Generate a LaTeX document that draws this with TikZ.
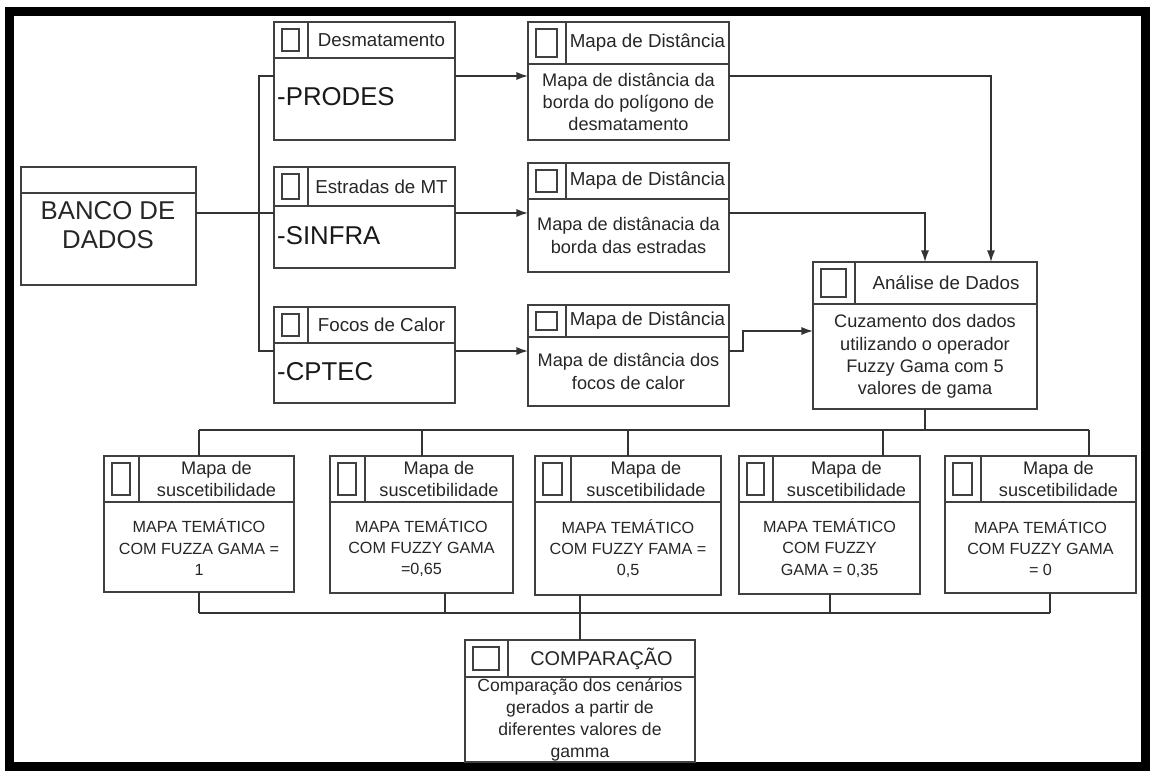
\documentclass[tikz,border=0pt]{standalone}
\usepackage{fontspec}
\setmainfont{Liberation Sans}
\usetikzlibrary{fit,arrows.meta}

\tikzset{
  caixa/.style={draw=black!75, line width=1.4pt, inner sep=0pt, outer sep=0pt},
  linha/.style={draw=black!75, line width=1.4pt},
  titulo/.style={text=black!85, font=\fontsize{16}{19}\selectfont, align=center, inner sep=0pt},
  corpo/.style={text=black!85, font=\fontsize{15.5}{19}\selectfont, align=center, inner sep=0pt},
  fonte/.style={text=black!90, font=\fontsize{22}{26}\selectfont, inner sep=0pt, anchor=west},
  liga/.style={draw=black!80, line width=1.3pt},
}

% name, left, top, right, bottom, header line, divider, title, body
\newcommand{\caixa}[9]{%
  \node[caixa, fit={(#2,#3) (#4,#5)}] (#1) {};
  \draw[linha] (#2,#6) -- (#4,#6);
  \draw[linha] (#7,#3) -- (#7,#6);
  \draw[linha] ({#2+8},{#3+7}) rectangle ({#7-9},{#6-7});
  \node[titulo] (#1-t) at ({(#7+#4)/2},{(#3+#6)/2}) {#8};
  \node[corpo] (#1-c) at ({(#2+#4)/2},{(#6+#5)/2}) {#9};
}

\begin{document}
\begin{tikzpicture}[x=0.03cm, y=-0.03cm, >={Latex[length=10pt,width=7pt]}]
    \useasboundingbox (0,0) rectangle (1151,771);
    \draw[line width=7.6pt] (9.5,11.5) rectangle (1145.5,766.5);

    % banco de dados
    \node[caixa, fit={(21,167) (196,285)}] (banco) {};
    \draw[linha] (21,193) -- (196,193);
    \node[corpo, font=\fontsize{22}{25}\selectfont] (banco-c) at (108,225) {BANCO DE\\DADOS};

    % fontes
    \caixa{desm}{274}{22}{455}{140}{58}{308}{Desmatamento}{}
    \caixa{estr}{274}{167}{455}{268}{206}{308}{Estradas de MT}{}
    \caixa{focos}{274}{307}{455}{403}{343}{308}{Focos de Calor}{}
    \node[fonte] (desm-f) at (277,97) {-PRODES};
    \node[fonte] (estr-f) at (277,236) {-SINFRA};
    \node[fonte] (focos-f) at (277,372) {-CPTEC};

    % mapas de distancia
    \caixa{dist1}{528}{22}{729}{140}{64}{566}{Mapa de Distância}{Mapa de distância da\\borda do polígono de\\desmatamento}
    \caixa{dist2}{528}{163}{729}{272}{199}{566}{Mapa de Distância}{Mapa de distânacia da\\borda das estradas}
    \caixa{dist3}{528}{305}{729}{406}{337}{566}{Mapa de Distância}{Mapa de distância dos\\focos de calor}

    \caixa{analise}{813}{262}{1037}{409}{304}{855}{Análise de Dados}{Cuzamento dos dados\\utilizando o operador\\Fuzzy Gama com 5\\valores de gama}

    % mapas de suscetibilidade
    \begin{scope}[titulo/.append style={font=\fontsize{15.5}{19}\selectfont},
                  corpo/.append style={font=\fontsize{13.8}{18}\selectfont}]
        \caixa{susc1}{104}{456}{294}{592}{502}{139}{Mapa de\\suscetibilidade}{MAPA TEMÁTICO\\COM FUZZA GAMA =\\1}
        \caixa{susc2}{330}{456}{513}{593}{502}{365}{Mapa de\\suscetibilidade}{MAPA TEMÁTICO\\COM FUZZY GAMA\\=0,65}
        \caixa{susc3}{535}{456}{721}{595}{502}{571}{Mapa de\\suscetibilidade}{MAPA TEMÁTICO\\COM FUZZY FAMA =\\0,5}
        \caixa{susc4}{739}{456}{920}{594}{502}{773}{Mapa de\\suscetibilidade}{MAPA TEMÁTICO\\COM FUZZY\\GAMA = 0,35}
        \caixa{susc5}{945}{456}{1136}{593}{502}{981}{Mapa de\\suscetibilidade}{MAPA TEMÁTICO\\COM FUZZY GAMA\\= 0}
    \end{scope}

    \begin{scope}[titulo/.append style={font=\fontsize{17}{20}\selectfont},
                  corpo/.append style={font=\fontsize{15}{18.7}\selectfont}]
        \caixa{comp}{465}{640}{695}{762}{677}{508}{COMPARAÇÃO}{Comparação dos cenários\\gerados a partir de\\diferentes valores de\\gamma}
    \end{scope}

    % ligacoes
    \coordinate (tronco) at (259,213);
    \coordinate (r1) at (0,76);
    \coordinate (r2) at (0,213);
    \coordinate (r3) at (0,351);
    \coordinate (e1) at (991,0);
    \coordinate (joelho) at (743,331);
    \coordinate (bus1) at (0,430);
    \coordinate (bus2) at (0,613);
    \draw[liga] (banco.east |- tronco) -- (estr.west |- tronco);
    \draw[liga] (desm.west |- r1) -| (tronco |- r3) -- (focos.west |- r3);
    \draw[liga,->] (desm.east |- r1) -- (dist1.west |- r1);
    \draw[liga,->] (estr.east |- r2) -- (dist2.west |- r2);
    \draw[liga,->] (focos.east |- r3) -- (dist3.west |- r3);
    \draw[liga,->] (dist1.east |- r1) -| (e1 |- analise.north);
    \draw[liga,->] (dist2.east |- r2) -| (analise.north);
    \draw[liga,->] (dist3.east |- r3) -| (joelho) -- (analise.west |- joelho);

    \draw[liga] (analise.south) -- (analise.south |- bus1);
    \draw[liga] (199,430) -- (1089,430);
    \foreach \n/\x in {susc1/199,susc2/422,susc3/628,susc4/883,susc5/1089}
        \draw[liga] (\x,430) -- (\x,0 |- \n.north);
    \draw[liga] (199,613) -- (1050,613);
    \foreach \n/\x in {susc1/199,susc2/445,susc3/580,susc4/830,susc5/1050}
        \draw[liga] (\x,0 |- \n.south) -- (\x,613);
    \draw[liga] (comp.north |- bus2) -- (comp.north);
\end{tikzpicture}
\end{document}
